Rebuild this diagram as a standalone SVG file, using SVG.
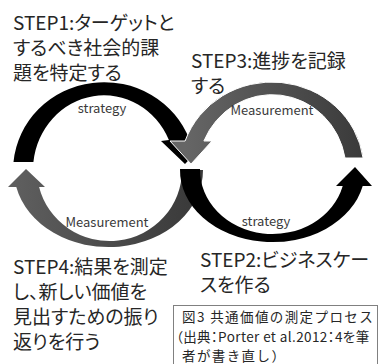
<svg xmlns="http://www.w3.org/2000/svg" width="379" height="364" viewBox="0 0 379 364">
<style>
.step{font-family:"Noto Sans CJK JP","Noto Sans",sans-serif;font-size:19px;fill:#262626;font-feature-settings:"palt"}
.lbl{font-family:"Noto Sans CJK JP","Noto Sans",sans-serif;font-size:13px;fill:#3a3a3a;text-anchor:middle}
.cap{font-family:"Noto Sans CJK JP","Noto Sans",sans-serif;font-size:13.5px;fill:#262626}
.blk{fill:#000}
</style>
<defs>
<linearGradient id="gTR" gradientUnits="userSpaceOnUse" x1="185" y1="0" x2="363" y2="0">
<stop offset="0" stop-color="#666"/><stop offset="1" stop-color="#3a3a3a"/>
</linearGradient>
<linearGradient id="gBL" gradientUnits="userSpaceOnUse" x1="8" y1="0" x2="203" y2="0">
<stop offset="0" stop-color="#606060"/><stop offset="1" stop-color="#383838"/>
</linearGradient>
</defs>
<g id="connectors">
<path id="arc-bl" fill="url(#gBL)" d="M203,170 A94.5,77 0 0 1 16.3,187 L8,187 L26,169 L45,187 L39.1,187 A72.5,71 0 0 0 182,170 Z"/>
<path id="arc-br" class="blk" d="M180,169 A92.5,72 0 0 0 362.7,186 L372,186 L355,167 L336,186 L342.7,186 A72.5,64 0 0 1 200,169 Z"/>
<path id="arc-tl" class="blk" d="M13.5,162 A91,88 0 0 1 189.6,140 L207,141 L185,164 L161,141 L168.9,140 A71,75 0 0 0 33.4,162 Z"/>
<path id="arc-tr" fill="url(#gTR)" stroke="#fff" stroke-width="1" d="M363.1,158 A92,88 0 0 0 185.1,141 L170,141 L191,164 L212,141 L203.9,141 A74,76 0 0 1 345,158 Z"/>
<text class="lbl" x="102" y="113">strategy</text>
<text class="lbl" x="272" y="115">Measurement</text>
<text class="lbl" x="107" y="227">Measurement</text>
<text class="lbl" x="266" y="226">strategy</text>
</g>
<g id="step1">
<text class="step" x="13" y="30">STEP1:ターゲットと</text>
<text class="step" x="13" y="55">するべき社会的課</text>
<text class="step" x="13" y="80">題を特定する</text>
</g>
<g id="step3">
<text class="step" x="191" y="68">STEP3:進捗を記録</text>
<text class="step" x="191" y="93">する</text>
</g>
<g id="step2">
<text class="step" x="200" y="267">STEP2:ビジネスケー</text>
<text class="step" x="200" y="292">スを作る</text>
</g>
<g id="step4">
<text class="step" x="13" y="274">STEP4:結果を測定</text>
<text class="step" x="13" y="299">し、新しい価値を</text>
<text class="step" x="13" y="324">見出すための振り</text>
<text class="step" x="13" y="349">返りを行う</text>
</g>
<g id="caption">
<rect x="173.5" y="305.5" width="204" height="64" fill="#fff" stroke="#808080" stroke-width="1"/>
<text class="cap" x="182" y="322" letter-spacing="1.4">図3 共通価値の測定プロセス</text>
<text class="cap" x="176" y="341.5" letter-spacing="0.4" style="font-feature-settings:'palt'">（出典：Porter et al.2012：4を筆</text>
<text class="cap" x="182" y="361" letter-spacing="1.4">者が書き直し）</text>
</g>
</svg>
